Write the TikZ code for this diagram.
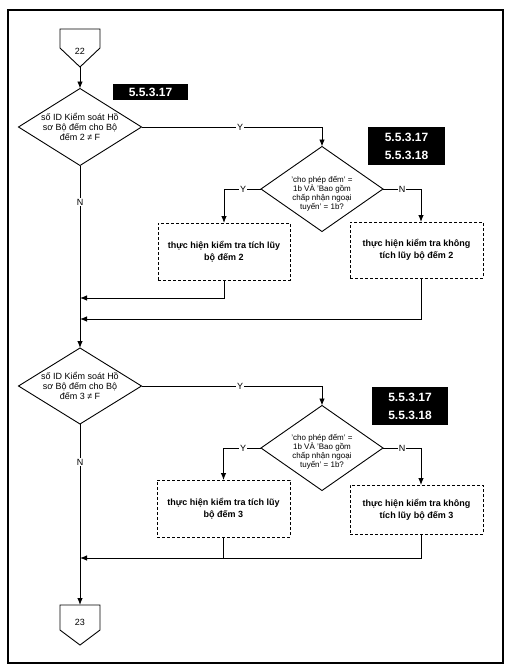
\documentclass[tikz,border=0pt]{standalone}
\usepackage{fontspec}
\setmainfont{Liberation Sans}
\usetikzlibrary{shapes.geometric, arrows.meta, positioning, calc}

\begin{document}
\begin{tikzpicture}[x=1pt, y=-1pt, line width=0.9pt,
    >={Latex[length=7pt,width=5.5pt]},
    decision/.style={diamond, draw, inner sep=0pt, outer sep=0pt, minimum width=123pt, minimum height=77pt},
    dtext/.style={align=center, font=\fontsize{9}{10}\selectfont},
    qtext/.style={align=center, font=\fontsize{8}{9}\selectfont},
    taskbox/.style={draw, dash pattern=on 3pt off 2pt, outer sep=0pt, minimum width=133pt, minimum height=57pt, align=center, font=\fontsize{9}{12}\selectfont\bfseries},
    refbox/.style={fill=black, text=white, inner sep=0pt, align=center, font=\fontsize{12}{18}\selectfont\bfseries},
    yn/.style={fill=white, inner sep=1pt, font=\fontsize{9}{10}\selectfont},
    connlabel/.style={font=\fontsize{9}{10}\selectfont}]
    \useasboundingbox (0,0) rectangle (509,669);

    % Khung ngoai
    \draw[line width=1.2pt] (8,10) rectangle (503,663);

    % Connector 22
    \draw (60,29) -- (100,29) -- (100,48) -- (80,67) -- (60,48) -- cycle;
    \node[connlabel] (c22) at (80,51) {22};
    \coordinate (c22tip) at (80,67);

    % Nhanh bo dem 2
    \node[decision] (d1) at (80,127) {};
    \node[dtext] (d1t) at (d1.center) {số ID Kiểm soát Hồ\\sơ Bộ đếm cho Bộ\\đếm 2 ≠ F};
    \node[refbox, minimum width=75pt, minimum height=16pt] (r1) at (150.5,92) {5.5.3.17};

    \node[decision, minimum width=122pt, minimum height=85pt] (d2) at (322,189) {};
    \node[qtext] (d2t) at ([yshift=-5pt]d2.center) {'cho phép đếm' =\\1b VÀ 'Bao gồm\\chấp nhận ngoại\\tuyến' = 1b?};
    \node[refbox, minimum width=77pt, minimum height=38pt] (r2) at (406.5,146) {5.5.3.17\\5.5.3.18};

    \node[taskbox, minimum width=132pt] (b1) at (224,251.5) {thực hiện kiểm tra tích lũy\\bộ đếm 2};
    \node[taskbox, minimum height=56pt] (b2) at (416.5,250) {thực hiện kiểm tra không\\tích lũy bộ đếm 2};

    \coordinate (m1) at (80,298);
    \coordinate (m2) at (80,319);

    % Nhanh bo dem 3
    \node[decision, minimum height=76pt] (d3) at (80,386) {};
    \node[dtext] (d3t) at (d3.center) {số ID Kiểm soát Hồ\\sơ Bộ đếm cho Bộ\\đếm 3 ≠ F};

    \node[decision, minimum width=122pt, minimum height=85pt] (d4) at (322,448) {};
    \node[qtext] (d4t) at ([yshift=-4pt]d4.center) {'cho phép đếm' =\\1b VÀ 'Bao gồm\\chấp nhận ngoại\\tuyến' = 1b?};
    \node[refbox, minimum width=76pt, minimum height=38pt] (r3) at (410,406) {5.5.3.17\\5.5.3.18};

    \node[taskbox] (b3) at (223.5,508.5) {thực hiện kiểm tra tích lũy\\bộ đếm 3};
    \node[taskbox, minimum height=49pt] (b4) at (416.5,509.5) {thực hiện kiểm tra không\\tích lũy bộ đếm 3};

    \coordinate (m3) at (80,558);

    % Connector 23
    \draw (60,605) -- (100,605) -- (100,630) -- (80,645) -- (60,630) -- cycle;
    \node[connlabel] (c23) at (80,622) {23};
    \coordinate (c23top) at (80,605);

    % Duong noi
    \draw[->] (c22tip) -- (d1.north);
    \draw[->] (d1.east) -| node[yn, pos=0.273] {Y} (d2.north);
    \draw[->] (d1.south) -- node[yn, pos=0.2] {N} (d3.north);
    \draw[->] (d2.west) -| node[yn, pos=0.24] {Y} (b1.north);
    \draw[->] (d2.east) -| node[yn, pos=0.25] {N} ([xshift=4.5pt]b2.north);
    \draw[->] (b1.south) |- (m1);
    \draw[->] ([xshift=4.5pt]b2.south) |- (m2);

    \draw[->] (d3.east) -| node[yn, pos=0.273] {Y} (d4.north);
    \draw[->] (d3.south) -- node[yn, pos=0.21] {N} (c23top);
    \draw[->] (d4.west) -| node[yn, pos=0.24] {Y} (b3.north);
    \draw[->] (d4.east) -| node[yn, pos=0.25] {N} ([xshift=4.5pt]b4.north);
    \draw (b3.south) -- (b3.south |- m3);
    \draw[->] ([xshift=4.5pt]b4.south) |- (m3);
\end{tikzpicture}
\end{document}
